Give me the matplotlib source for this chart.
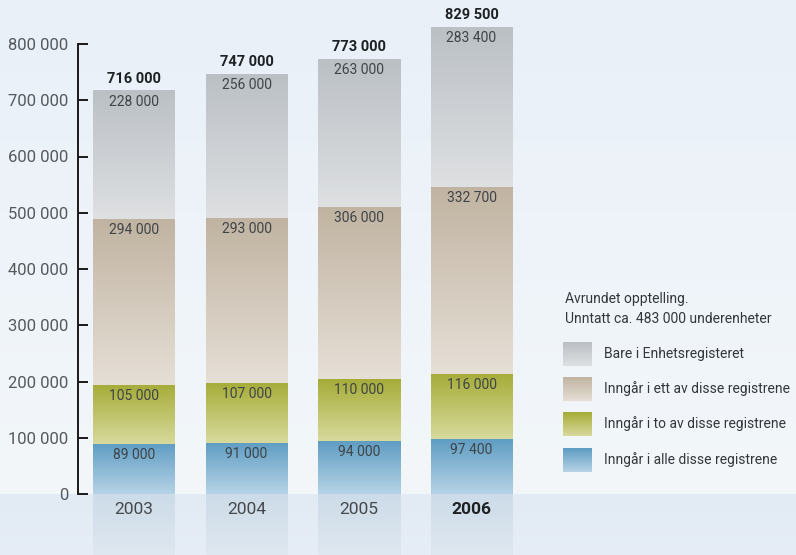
import numpy as np
import matplotlib
matplotlib.use("Agg")
import matplotlib.pyplot as plt
from matplotlib.colors import LinearSegmentedColormap

plt.rcParams['font.family'] = ['Roboto', 'DejaVu Sans']

# Data
years = ["2003", "2004", "2005", "2006"]
alle = [89000, 91000, 94000, 97400]
to_reg = [105000, 107000, 110000, 116000]
ett_reg = [294000, 293000, 306000, 332700]
bare = [228000, 256000, 263000, 283400]
totals = [716000, 747000, 773000, 829500]
series_names = ["Inngår i alle disse registrene", "Inngår i to av disse registrene",
                "Inngår i ett av disse registrene", "Bare i Enhetsregisteret"]
note_lines = ["Avrundet opptelling.", "Unntatt ca. 483 000 underenheter"]
yticks = [0, 100000, 200000, 300000, 400000, 500000, 600000, 700000, 800000]

series = [alle, to_reg, ett_reg, bare]
# (bottom colour, top colour) for each series gradient
grad_colors = [("#b6d3e6", "#5f9dc3"),
               ("#d7da9c", "#a6ac38"),
               ("#e6dfd6", "#c0b3a1"),
               ("#dee0e2", "#bbc0c5")]


def fmt(v):
    return f"{v:,.0f}".replace(",", " ")


def gradient_cmap(bottom, top):
    return LinearSegmentedColormap.from_list("g", [bottom, top])


W, H = 796, 555
fig = plt.figure(figsize=(W / 100, H / 100), dpi=100)

# Background layer in pixel units
bg = fig.add_axes([0, 0, 1, 1], zorder=0)
bg.set_xlim(0, W)
bg.set_ylim(0, H)
bg.axis("off")
grad = np.linspace(0, 1, 256).reshape(-1, 1)
bg.imshow(grad, extent=[0, W, 61, H], origin="lower", aspect="auto",
          cmap=gradient_cmap("#f3f7fa", "#e9f0f8"))
bg.imshow(grad, extent=[0, W, 0, 61], origin="lower", aspect="auto",
          cmap=gradient_cmap("#e6edf6", "#e2eaf4"))

# Main chart axes
left_px = 78
ax = fig.add_axes([left_px / W, 0, 1 - left_px / W, 1], zorder=1)
ax.patch.set_alpha(0)
px_per_unit_y = 56.25 / 100000
ymin = -61 / px_per_unit_y
ymax = 494 / px_per_unit_y
step_px = 112.5
first_center_px = 134
xmin = -(first_center_px - left_px) / step_px
xmax = (W - first_center_px) / step_px
bw = 82 / step_px

x = np.arange(len(years))
for i in x:
    bottom = 0
    for vals, (c0, c1) in zip(series, grad_colors):
        v = vals[i]
        ax.imshow(grad, extent=[i - bw / 2, i + bw / 2, bottom, bottom + v],
                  origin="lower", aspect="auto", cmap=gradient_cmap(c0, c1), zorder=2)
        ax.text(i, bottom + v - 11 / px_per_unit_y, fmt(v), ha="center", va="center",
                fontsize=10, color="#3f4448", zorder=3)
        bottom += v
    ax.text(i, totals[i] + 12 / px_per_unit_y, fmt(totals[i]), ha="center", va="center",
            fontsize=10.5, fontweight="bold", color="#1e2124", zorder=3)
    # faded extension of the bar below the baseline
    ax.imshow(grad, extent=[i - bw / 2, i + bw / 2, ymin, 0], origin="lower",
              aspect="auto", cmap=gradient_cmap("#dfe7f0", "#ccdce8"), zorder=2)
    bold = years[i] == "2006"
    ax.text(i, -16 / px_per_unit_y, years[i], ha="center", va="center",
            fontsize=12.5, fontweight="bold" if bold else "normal",
            color="#1e2124" if bold else "#45494d", zorder=3)

ax.set_xlim(xmin, xmax)
ax.set_ylim(ymin, ymax)
for s in ["top", "right", "bottom"]:
    ax.spines[s].set_visible(False)
ax.spines["left"].set_bounds(0, 800000)
ax.spines["left"].set_linewidth(1.4)
ax.spines["left"].set_color("#1a1a1a")
ax.set_xticks([])
ax.set_yticks(yticks)
ax.set_yticklabels([fmt(t) for t in yticks])
ax.tick_params(axis="y", direction="in", length=7, width=1.4, color="#1a1a1a",
               labelsize=12, labelcolor="#55595d", pad=7)

# Legend block
bg.text(565, H - 299, note_lines[0], fontsize=10, color="#33373b", va="center")
bg.text(565, H - 319, note_lines[1], fontsize=10, color="#33373b", va="center")
sw_tops = [342, 377, 412, 448]
for k, top in enumerate(sw_tops):
    c0, c1 = grad_colors[3 - k]
    bg.imshow(grad, extent=[563, 592, H - top - 24, H - top], origin="lower",
              aspect="auto", cmap=gradient_cmap(c0, c1), zorder=2)
    bg.text(604, H - top - 12, series_names[3 - k], fontsize=10, color="#33373b",
            va="center")
bg.set_xlim(0, W)
bg.set_ylim(0, H)

fig.savefig("out.png", dpi=100)
